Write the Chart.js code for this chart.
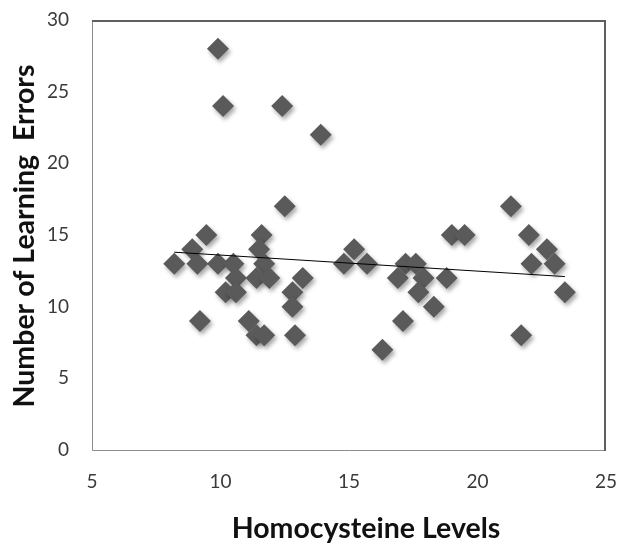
<!DOCTYPE html>
<html>
<head>
<meta charset="utf-8">
<script src="https://cdn.jsdelivr.net/npm/chart.js@4.4.1/dist/chart.umd.min.js"></script>
<style>
  html, body { margin: 0; padding: 0; background: #ffffff; }
  #wrap { width: 619px; height: 544px; }
</style>
</head>
<body>
<div id="wrap"><canvas id="c" width="619" height="544"></canvas></div>
<script>
// Homocysteine level (x) and number of learning errors (y) per subject
const homocysteine = [9.9, 10.1, 12.4, 13.9, 12.5, 9.45, 8.9, 8.2, 9.1, 9.9, 10.5, 10.6, 10.2, 10.6,
  11.6, 11.5, 11.7, 11.4, 11.9, 13.2, 12.8, 12.8, 9.2, 11.1, 11.4, 11.7, 12.9, 16.3, 15.2, 14.8,
  15.7, 17.2, 17.6, 16.9, 17.9, 18.8, 17.7, 18.3, 17.1, 21.3, 19.0, 19.5, 22.0, 22.7, 22.1, 23.0,
  23.4, 21.7];
const learningErrors = [28, 24, 24, 22, 17, 15, 14, 13, 13, 13, 13, 12, 11, 11,
  15, 14, 13, 12, 12, 12, 11, 10, 9, 9, 8, 8, 8, 7, 14, 13,
  13, 13, 13, 12, 12, 12, 11, 10, 9, 17, 15, 15, 15, 14, 13, 13,
  11, 8];
// Linear trend line end points
const trendX = [8.2, 23.4];
const trendY = [13.8, 12.1];
// Axis ticks
const xTicks = [5, 10, 15, 20, 25];
const yTicks = [0, 5, 10, 15, 20, 25, 30];
const xTitle = 'Homocysteine Levels';
const yTitle = 'Number of Learning  Errors';

const points = homocysteine.map((x, i) => ({ x: x, y: learningErrors[i] }));
const trend = trendX.map((x, i) => ({ x: x, y: trendY[i] }));

const titleFont = 'bold 28.5px Lato, "Open Sans", sans-serif';

const frame = {
  id: 'frame',
  beforeDatasetsDraw(chart) {
    const a = chart.chartArea, ctx = chart.ctx;
    ctx.save();
    ctx.strokeStyle = '#8c8c8c';
    ctx.lineWidth = 1;
    ctx.beginPath();
    ctx.moveTo(a.left + 0.5, a.top);
    ctx.lineTo(a.left + 0.5, a.bottom + 0.5);
    ctx.lineTo(a.right, a.bottom + 0.5);
    ctx.stroke();
    ctx.strokeStyle = '#5f5f5f';
    ctx.lineWidth = 2;
    ctx.beginPath();
    ctx.moveTo(a.left, a.top + 1);
    ctx.lineTo(a.right - 1, a.top + 1);
    ctx.lineTo(a.right - 1, a.bottom + 1);
    ctx.stroke();
    ctx.restore();
  },
  beforeDatasetDraw(chart, args) {
    if (args.index === 1) {
      const ctx = chart.ctx;
      ctx.save();
      ctx.shadowColor = 'rgba(0,0,0,0.35)';
      ctx.shadowOffsetX = 2;
      ctx.shadowOffsetY = 3;
      ctx.shadowBlur = 4;
    }
  },
  afterDatasetDraw(chart, args) {
    if (args.index === 1) chart.ctx.restore();
  },
  afterDraw(chart) {
    const ctx = chart.ctx;
    ctx.save();
    ctx.fillStyle = '#111111';
    ctx.font = titleFont;
    ctx.textAlign = 'center';
    ctx.textBaseline = 'alphabetic';
    ctx.fillText(xTitle, 366, 538);
    ctx.translate(34, 236);
    ctx.rotate(-Math.PI / 2);
    ctx.fillText(yTitle, 0, 0);
    ctx.restore();
  }
};

new Chart(document.getElementById('c'), {
  type: 'scatter',
  data: {
    datasets: [
      {
        type: 'line',
        data: trend,
        borderColor: '#000000',
        borderWidth: 1,
        pointRadius: 0,
        fill: false,
        order: 0
      },
      {
        data: points,
        pointStyle: 'rectRot',
        pointRadius: 11,
        pointHoverRadius: 11,
        backgroundColor: '#5a5a5a',
        borderColor: '#5a5a5a',
        borderWidth: 0,
        order: 1
      }
    ]
  },
  options: {
    responsive: false,
    animation: false,
    layout: { padding: { left: 0, right: 13, top: 20, bottom: 0 } },
    plugins: { legend: { display: false }, tooltip: { enabled: false } },
    scales: {
      x: {
        type: 'linear',
        min: 5, max: 25,
        afterBuildTicks(scale) { scale.ticks = xTicks.map(v => ({ value: v })); },
        afterFit(scale) { scale.height = 94; scale.paddingLeft = 0; scale.paddingRight = 0; },
        grid: { display: false, drawTicks: false },
        border: { display: false },
        ticks: { padding: 20, maxRotation: 0, color: '#3a3a3a', font: { family: 'Lato, "Open Sans", sans-serif', size: 19 } },
        title: { display: false, text: xTitle }
      },
      y: {
        type: 'linear',
        min: 0, max: 30,
        afterBuildTicks(scale) { scale.ticks = yTicks.map(v => ({ value: v })); },
        afterFit(scale) { scale.width = 92; scale.paddingTop = 0; scale.paddingBottom = 0; },
        grid: { display: false, drawTicks: false },
        border: { display: false },
        ticks: { padding: 23, color: '#3a3a3a', font: { family: 'Lato, "Open Sans", sans-serif', size: 19 } },
        title: { display: false, text: yTitle }
      }
    }
  },
  plugins: [frame]
});
</script>
</body>
</html>
